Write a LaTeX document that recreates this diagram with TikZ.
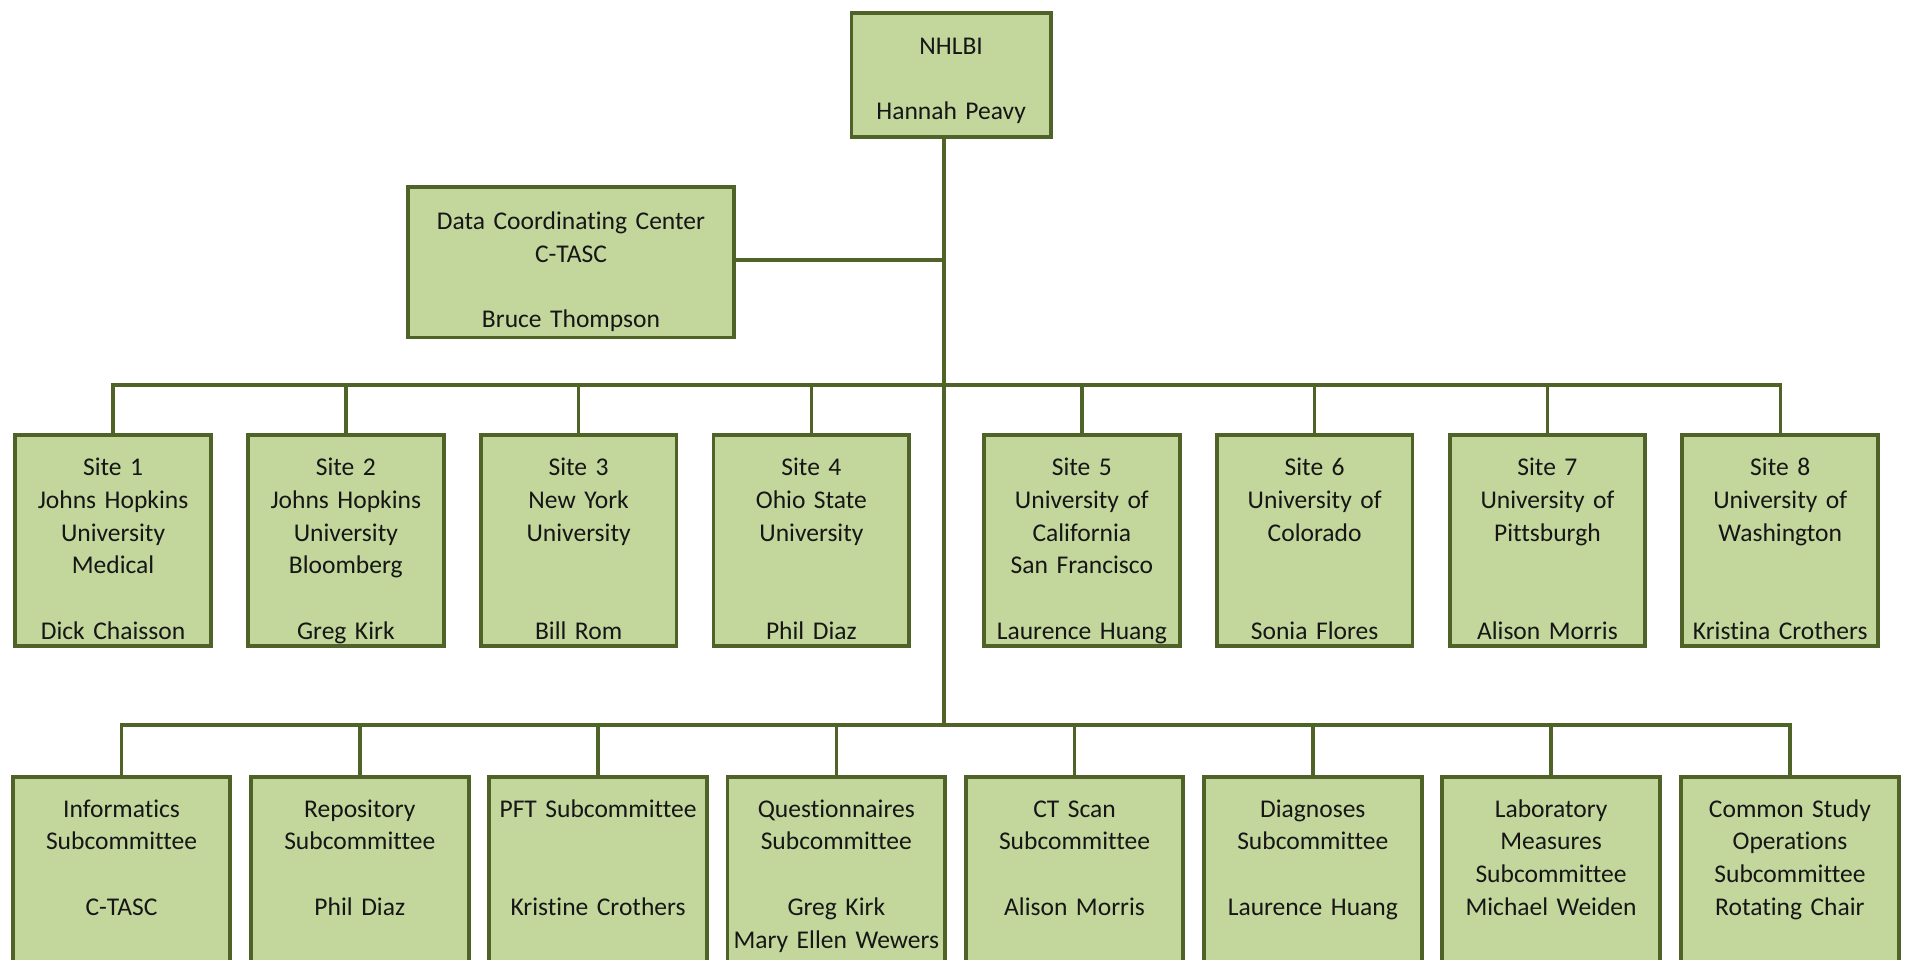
\documentclass[tikz,border=0pt]{standalone}
\usepackage{fontspec}
\setmainfont[Ligatures=NoCommon]{Carlito}
\definecolor{boxfill}{HTML}{C3D69B}
\definecolor{boxline}{HTML}{4F6228}
\definecolor{txt}{HTML}{161616}
\tikzset{
  orgbox/.style={draw=boxline, fill=boxfill, line width=1.6pt, text=txt,
    align=center, inner xsep=0pt, inner ysep=0pt, anchor=north,
    font=\fontsize{10.5pt}{13.5pt}\selectfont},
  sitebox/.style={orgbox, text width=80.5pt, text height=16.5pt, text depth=70pt},
  subbox/.style={orgbox, text width=89.5pt, text height=16.5pt, text depth=76pt},
  conn/.style={draw=boxline, line width=1.4pt}
}
\begin{document}
\begin{tikzpicture}[x=0.5pt,y=-0.5pt]
\useasboundingbox (0,0) rectangle (1568,789);
\clip (0,0) rectangle (1568,789);
% junction coordinates
\coordinate (jdcc) at (776.5,214);
\coordinate (jsite) at (776.5,316.7);
\coordinate (jsub) at (776.5,596.4);
% top boxes
\node[orgbox, text width=82pt, text height=17pt, text depth=34pt] (nhlbi) at (782.5,9)
  {NHLBI\\[13.5pt]Hannah Peavy};
\node[orgbox, text width=133.75pt, text height=17.5pt, text depth=44.5pt] (dcc) at (469.75,152)
  {Data Coordinating Center\\C-TASC\\[13.5pt]Bruce Thompson};
% sites
\node[sitebox] (s1) at (93,356.5) {Site 1\\Johns Hopkins\\University\\Medical\\[13.5pt]Dick Chaisson};
\node[sitebox] (s2) at (284.5,356.5) {Site 2\\Johns Hopkins\\University\\Bloomberg\\[13.5pt]Greg Kirk};
\node[sitebox] (s3) at (476,356.5) {Site 3\\New York\\University\\[27pt]Bill Rom};
\node[sitebox] (s4) at (667.5,356.5) {Site 4\\Ohio State\\University\\[27pt]Phil Diaz};
\node[sitebox] (s5) at (890,356.5) {Site 5\\University of\\California\\San Francisco\\[13.5pt]Laurence Huang};
\node[sitebox] (s6) at (1081.5,356.5) {Site 6\\University of\\Colorado\\[27pt]Sonia Flores};
\node[sitebox] (s7) at (1273,356.5) {Site 7\\University of\\Pittsburgh\\[27pt]Alison Morris};
\node[sitebox] (s8) at (1464.5,356.5) {Site 8\\University of\\Washington\\[27pt]Kristina Crothers};
% subcommittees
\node[subbox] (b1) at (100,637.5) {Informatics\\Subcommittee\\[13.5pt]C-TASC};
\node[subbox] (b2) at (296,637.5) {Repository\\Subcommittee\\[13.5pt]Phil Diaz};
\node[subbox] (b3) at (492,637.5) {PFT Subcommittee\\[27pt]Kristine Crothers};
\node[subbox] (b4) at (688,637.5) {Questionnaires\\Subcommittee\\[13.5pt]Greg Kirk\\Mary Ellen Wewers};
\node[subbox] (b5) at (884,637.5) {CT Scan\\Subcommittee\\[13.5pt]Alison Morris};
\node[subbox] (b6) at (1080,637.5) {Diagnoses\\Subcommittee\\[13.5pt]Laurence Huang};
\node[subbox] (b7) at (1276,637.5) {Laboratory\\Measures\\Subcommittee\\Michael Weiden};
\node[subbox] (b8) at (1472.5,637.5) {Common Study\\Operations\\Subcommittee\\Rotating Chair};
% connectors
\draw[conn] (nhlbi.south -| jsub) -- (jsub);
\draw[conn] (dcc.east |- jdcc) -- (jdcc);
\draw[conn] (s1.north) -- (s1.north |- jsite) -- (s8.north |- jsite) -- (s8.north);
\foreach \n in {s2,s3,s4,s5,s6,s7}{\draw[conn] (\n.north |- jsite) -- (\n.north);}
\draw[conn] (b1.north) -- (b1.north |- jsub) -- (b8.north |- jsub) -- (b8.north);
\foreach \n in {b2,b3,b4,b5,b6,b7}{\draw[conn] (\n.north |- jsub) -- (\n.north);}
\end{tikzpicture}
\end{document}
